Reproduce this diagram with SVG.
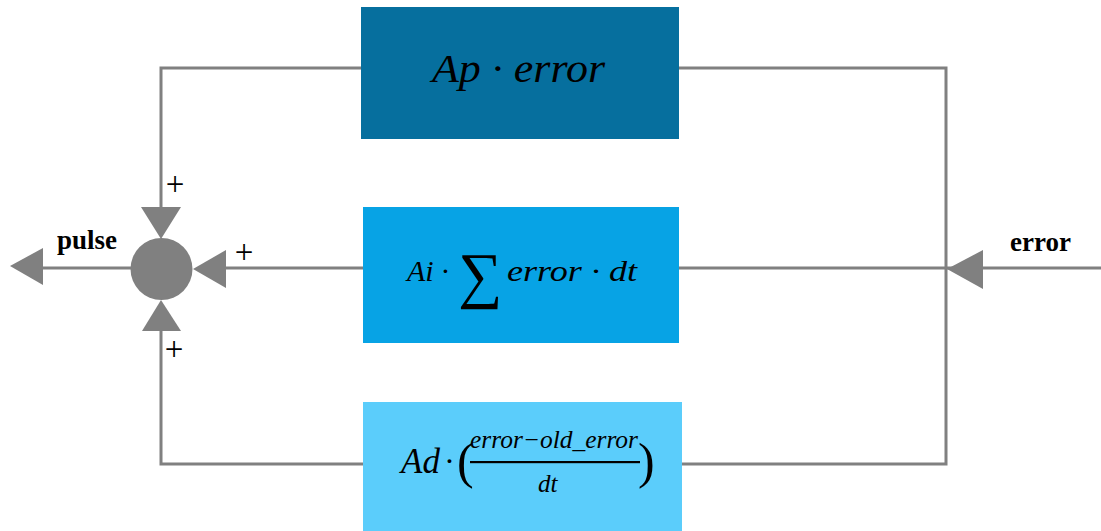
<svg xmlns="http://www.w3.org/2000/svg" width="1101" height="531" viewBox="0 0 1101 531">
<style>
.ln{fill:none;stroke:#808080;stroke-width:3}
.ah{fill:#808080}
.m{font-family:"Liberation Serif","DejaVu Serif",serif;font-style:italic;fill:#000}
.lb{font-family:"Liberation Serif",serif;font-weight:bold;fill:#000;font-size:27px}
.pl{font-family:"Liberation Serif",serif;fill:#000;font-size:33px;text-anchor:middle}
</style>
<rect width="1101" height="531" fill="#fff"/>
<g id="connectors">
<path class="ln" d="M361,68 H161 V208"/>
<path class="ln" d="M679,68 H946 V464 H681"/>
<path class="ln" d="M363,464 H161 V330"/>
<path class="ln" d="M363,268 H225"/>
<path class="ln" d="M679,268 H1101"/>
<path class="ln" d="M131,268 H42"/>
<polygon class="ah" points="141,207 181,207 161,239"/>
<polygon class="ah" points="142,331 181,331 161,300"/>
<polygon class="ah" points="226,250 226,288 193,269"/>
<polygon class="ah" points="43,248 43,285 10,266"/>
<polygon class="ah" points="983,250 983,289 947,269"/>
<text class="pl" x="175" y="195">+</text>
<text class="pl" x="244" y="263">+</text>
<text class="pl" x="174" y="360">+</text>
<text class="lb" x="57" y="249">pulse</text>
<text class="lb" x="1010" y="251">error</text>
</g>
<g id="sum">
<circle cx="161.5" cy="269" r="31" fill="#808080"/>
</g>
<g id="p-block">
<rect x="361" y="7" width="318" height="132" fill="#066f9e"/>
<text class="m" x="432" y="82" font-size="40" textLength="173" lengthAdjust="spacingAndGlyphs">Ap · error</text>
</g>
<g id="i-block">
<rect x="363" y="207" width="316" height="136" fill="#07a3e5"/>
<text class="m" x="407" y="281" font-size="30">Ai ·</text>
<text x="458" y="296" font-family="Liberation Serif, serif" font-size="62" fill="#000">∑</text>
<text class="m" x="507" y="281" font-size="30" textLength="130" lengthAdjust="spacingAndGlyphs">error · dt</text>
</g>
<g id="d-block">
<rect x="363" y="402" width="319" height="129" fill="#5bcdfb"/>
<text class="m" x="401" y="473" font-size="35">Ad</text>
<text class="m" x="445" y="472" font-size="32">·</text>
<text x="457" y="478" font-family="Liberation Serif, serif" font-size="50" fill="#000">(</text>
<text class="m" x="470" y="448" font-size="25" textLength="168" lengthAdjust="spacingAndGlyphs">error−old_error</text>
<rect x="470" y="461" width="170" height="2.2" fill="#000"/>
<text class="m" x="538" y="492" font-size="25">dt</text>
<text x="638" y="478" font-family="Liberation Serif, serif" font-size="50" fill="#000">)</text>
</g>
</svg>
